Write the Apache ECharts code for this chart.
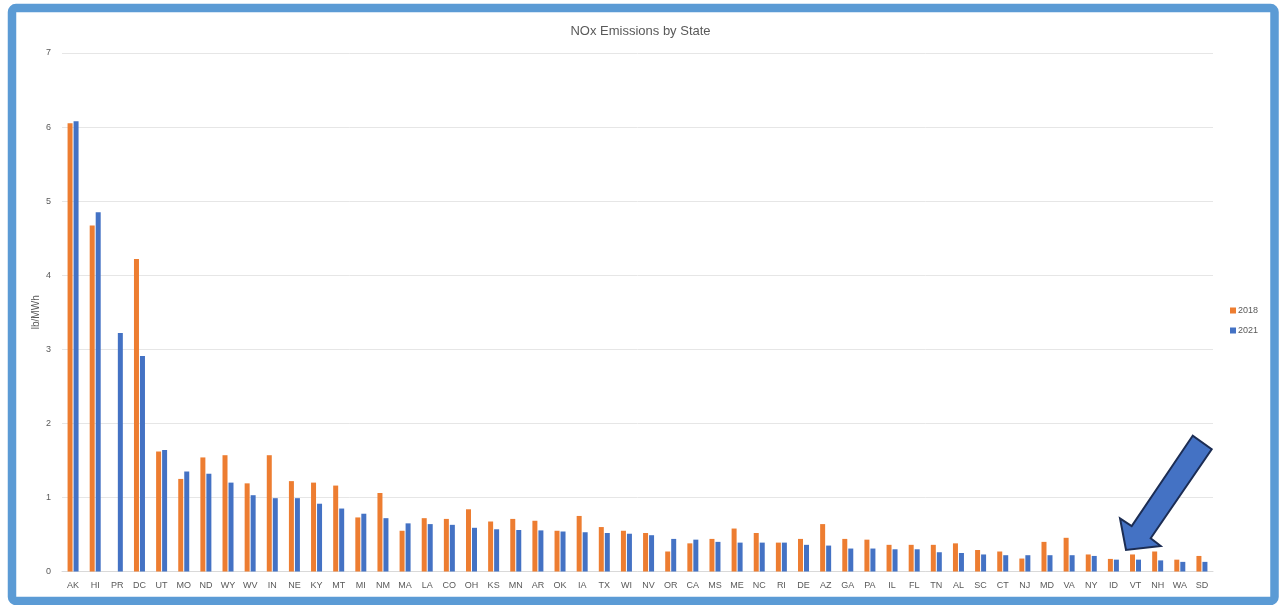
<!DOCTYPE html>
<html>
<head>
<meta charset="utf-8">
<style>
  html, body { margin: 0; padding: 0; background: #ffffff; }
  #main { width: 1281px; height: 605px; }
</style>
<script src="https://cdn.jsdelivr.net/npm/echarts@6/dist/echarts.min.js"></script>
</head>
<body>
<div id="main"></div>
<script>
// states, ordered as in the chart
const states = ['AK', 'HI', 'PR', 'DC', 'UT', 'MO', 'ND', 'WY', 'WV', 'IN', 'NE', 'KY', 'MT', 'MI', 'NM', 'MA', 'LA',
  'CO', 'OH', 'KS', 'MN', 'AR', 'OK', 'IA', 'TX', 'WI', 'NV', 'OR', 'CA', 'MS', 'ME', 'NC', 'RI', 'DE',
  'AZ', 'GA', 'PA', 'IL', 'FL', 'TN', 'AL', 'SC', 'CT', 'NJ', 'MD', 'VA', 'NY', 'ID', 'VT', 'NH', 'WA', 'SD']

// lb/MWh (PR has no 2018 bar)
const nox2018 = [6.05, 4.67, null, 4.22, 1.62, 1.25, 1.54, 1.57, 1.19, 1.57, 1.22, 1.20, 1.16, 0.73, 1.06, 0.55, 0.72,
  0.71, 0.84, 0.675, 0.71, 0.685, 0.55, 0.75, 0.60, 0.55, 0.52, 0.27, 0.38, 0.44, 0.58, 0.52, 0.39, 0.44,
  0.64, 0.44, 0.43, 0.36, 0.36, 0.36, 0.38, 0.29, 0.27, 0.175, 0.40, 0.455, 0.23, 0.17, 0.23, 0.27, 0.16, 0.21]
const nox2021 = [6.08, 4.85, 3.22, 2.91, 1.64, 1.35, 1.32, 1.20, 1.03, 0.99, 0.99, 0.915, 0.85, 0.78, 0.72, 0.65, 0.64,
  0.63, 0.59, 0.57, 0.56, 0.555, 0.54, 0.53, 0.52, 0.51, 0.49, 0.44, 0.43, 0.40, 0.39, 0.39, 0.39, 0.36,
  0.35, 0.31, 0.31, 0.30, 0.30, 0.26, 0.25, 0.23, 0.22, 0.22, 0.22, 0.22, 0.21, 0.16, 0.16, 0.15, 0.13, 0.13]

const yTicks = [0, 1, 2, 3, 4, 5, 6, 7]

const font = 'Liberation Sans, Arial, sans-serif'
const chart = echarts.init(document.getElementById('main'))

const option = {
  backgroundColor: '#ffffff',
  animation: false,
  title: {
    text: 'NOx Emissions by State',
    left: 'center',
    top: 20,
    textStyle: { color: '#595959', fontSize: 13, fontWeight: 'normal', fontFamily: font }
  },
  legend: {
    orient: 'vertical',
    left: 1225,
    top: 301,
    itemWidth: 6,
    itemHeight: 6,
    itemGap: 11,
    icon: 'rect',
    textStyle: { color: '#595959', fontSize: 9, fontFamily: font, padding: [0, 0, 0, -3] },
    data: ['2018', '2021']
  },
  grid: { left: 62, right: 68, top: 53, bottom: 33.5 },
  xAxis: {
    type: 'category',
    data: states,
    axisLine: { lineStyle: { color: '#d9d9d9' } },
    axisTick: { show: false },
    axisLabel: { color: '#595959', fontSize: 9, fontFamily: font, margin: 10, interval: 0 }
  },
  yAxis: {
    type: 'value',
    min: yTicks[0],
    max: yTicks[yTicks.length - 1],
    interval: 1,
    name: 'lb/MWh',
    nameLocation: 'middle',
    nameGap: 21,
    nameMoveOverlap: false,
    nameTextStyle: { color: '#595959', fontSize: 10, fontFamily: font },
    axisLine: { show: false },
    axisTick: { show: false },
    axisLabel: { color: '#595959', fontSize: 9, fontFamily: font, margin: 11 },
    splitLine: { lineStyle: { color: '#e6e6e6' } }
  },
  series: [{
    name: '2018',
    type: 'bar',
    data: nox2018,
    barWidth: 5,
    barGap: '20%',
    itemStyle: { color: '#ed7d31' }
  }, {
    name: '2021',
    type: 'bar',
    data: nox2021,
    barWidth: 5,
    itemStyle: { color: '#4472c4' }
  }],
  graphic: [{
    // slide frame
    type: 'rect',
    shape: { x: 12, y: 8, width: 1262.5, height: 593, r: 4 },
    style: { fill: 'none', stroke: '#5b9bd5', lineWidth: 8.5 },
    z: 100
  }, {
    // call-out arrow
    type: 'polygon',
    shape: {
      points: [[1192.7, 435.7], [1131.7, 526], [1120, 518.3], [1126, 550],
        [1160.7, 546], [1150.7, 538.3], [1211.7, 449.3]]
    },
    style: { fill: '#4472c4', stroke: '#1c2d54', lineWidth: 2 },
    z: 100
  }]
}

chart.setOption(option)
</script>
</body>
</html>
